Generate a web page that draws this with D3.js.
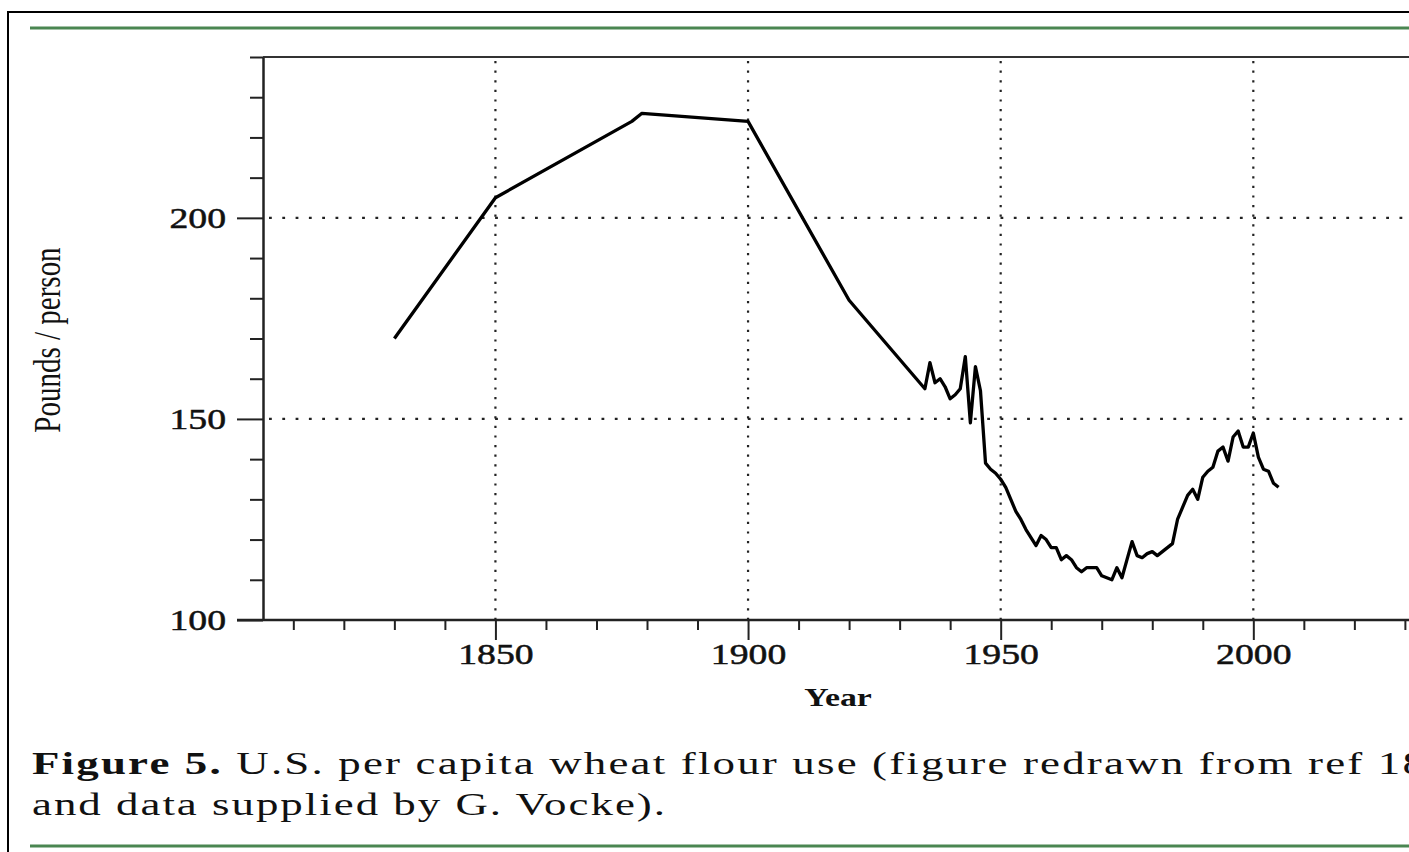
<!DOCTYPE html>
<html>
<head>
<meta charset="utf-8">
<script src="https://cdn.jsdelivr.net/npm/d3@7"></script>
<style>
  body { margin: 0; background: #fff; overflow: hidden; }
  text { font-family: "Liberation Serif", "Times New Roman", serif; fill: #111; }
</style>
</head>
<body>
<svg id="chart"></svg>
<script>
// wheat flour use, pounds per person
const years = [1830, 1850, 1877, 1879, 1900, 1920,
  1935, 1936, 1937, 1938, 1939, 1940, 1941, 1942, 1943, 1944, 1945, 1946, 1947, 1948, 1949,
  1950, 1951, 1952, 1953, 1954, 1955, 1956, 1957, 1958, 1959, 1960, 1961, 1962, 1963, 1964,
  1965, 1966, 1967, 1968, 1969, 1970, 1971, 1972, 1973, 1974, 1975, 1976, 1977, 1978, 1979,
  1980, 1981, 1982, 1983, 1984, 1985, 1986, 1987, 1988, 1989, 1990, 1991, 1992, 1993, 1994,
  1995, 1996, 1997, 1998, 1999, 2000, 2001, 2002, 2003, 2004, 2005];
const pounds = [170, 205, 224, 226, 224, 179.5,
  157.5, 164, 159, 160, 158, 155, 156, 157.5, 165.5, 149, 163, 157, 139, 137.5, 136.5,
  135, 133, 130, 127, 125, 122.5, 120.5, 118.5, 121, 120, 118, 118, 115, 116, 115,
  113, 112, 113, 113, 113, 111, 110.5, 110, 113, 110.5, 115, 119.5, 116, 115.5, 116.5,
  117, 116, 117, 118, 119, 125, 128, 131, 132.5, 130, 135.5, 137, 138, 142, 143,
  139.5, 145.5, 147, 143, 143, 146.5, 140.5, 137.5, 137, 134, 133];

const xTicks = d3.range(1810, 2031, 10);
const xMajor = [1850, 1900, 1950, 2000];
const yTicks = d3.range(100, 241, 10);
const yMajor = [100, 150, 200];

const captionBold = "Figure 5.";
const captionLine1 = " U.S. per capita wheat flour use (figure redrawn from ref 18";
const captionLine2 = "and data supplied by G. Vocke).";

const W = 1409, H = 852;
const SX = 1.3; // the page is stretched sideways

const svg = d3.select("#chart").attr("width", W).attr("height", H);

// frame and green rules
svg.append("rect").attr("x", 8).attr("y", 12).attr("width", 1500).attr("height", 900)
  .attr("fill", "#fff").attr("stroke", "#000").attr("stroke-width", 2);
svg.append("line").attr("x1", 30).attr("x2", W + 10).attr("y1", 28).attr("y2", 28)
  .attr("stroke", "#4a8651").attr("stroke-width", 3);
svg.append("line").attr("x1", 30).attr("x2", W + 10).attr("y1", 846).attr("y2", 846)
  .attr("stroke", "#4a8651").attr("stroke-width", 3);

const x = d3.scaleLinear().domain([1804, 2032]).range([263, 1415]);
const y = d3.scaleLinear().domain([100, 240]).range([620, 57]);

// dotted grid
svg.append("g").selectAll("line").data(xMajor).enter().append("line")
  .attr("x1", d => x(d)).attr("x2", d => x(d))
  .attr("y1", y(240) + 4).attr("y2", y(100))
  .attr("stroke", "#222").attr("stroke-width", 2.2).attr("stroke-dasharray", "2.2,7.4");
svg.append("g").selectAll("line").data([150, 200]).enter().append("line")
  .attr("x1", x(1804) + 6).attr("x2", x(2032))
  .attr("y1", d => y(d)).attr("y2", d => y(d))
  .attr("stroke", "#222").attr("stroke-width", 2.2).attr("stroke-dasharray", "2.8,10.5");

// top border line of the plot
svg.append("line").attr("x1", x(1804)).attr("x2", x(2032)).attr("y1", y(240)).attr("y2", y(240))
  .attr("stroke", "#333").attr("stroke-width", 2);

// x axis
const xAxis = svg.append("g").attr("transform", `translate(0,${y(100)})`)
  .call(d3.axisBottom(x).tickValues(xTicks).tickSizeOuter(0)
    .tickFormat(d => xMajor.includes(d) ? d : ""));
xAxis.select(".domain").attr("stroke", "#222").attr("stroke-width", 2.5)
  .attr("d", `M${x(1804) - 26},0H${x(2032)}`);
xAxis.selectAll(".tick line").attr("stroke", "#222").attr("stroke-width", 2)
  .attr("y2", d => xMajor.includes(d) ? 20 : 10);
xAxis.selectAll(".tick text").attr("y", 23).attr("dy", "0.71em")
  .attr("transform", `scale(${SX},1)`)
  .style("font-size", "29px").style("font-family", "Liberation Serif")
  .attr("fill", "#111").attr("stroke", "#111").attr("stroke-width", 0.5);

// y axis
const yAxis = svg.append("g").attr("transform", `translate(${x(1804)},0)`)
  .call(d3.axisLeft(y).tickValues(yTicks).tickSizeOuter(0)
    .tickFormat(d => yMajor.includes(d) ? d : ""));
yAxis.select(".domain").attr("stroke", "#222").attr("stroke-width", 2.5);
yAxis.selectAll(".tick line").attr("stroke", "#222").attr("stroke-width", 2)
  .attr("x2", d => yMajor.includes(d) ? -26 : -13);
yAxis.selectAll(".tick text").attr("x", -37 / SX).attr("dy", "0.33em")
  .attr("transform", `scale(${SX},1)`)
  .style("font-size", "29px").style("font-family", "Liberation Serif")
  .attr("fill", "#111").attr("stroke", "#111").attr("stroke-width", 0.5);

// axis titles
svg.append("text").attr("transform", `translate(838,706) scale(${SX},1)`)
  .attr("text-anchor", "middle").style("font-size", "26px").style("font-weight", "bold")
  .text("Year");
svg.append("text").attr("transform", `translate(60,340) scale(${SX},1) rotate(-90)`)
  .attr("text-anchor", "middle").style("font-size", "29px")
  .text("Pounds / person");

// the series
const line = d3.line().x(d => x(d[0])).y(d => y(d[1]));
svg.append("path").datum(d3.zip(years, pounds))
  .attr("d", line).attr("fill", "none").attr("stroke", "#000")
  .attr("stroke-width", 3.3).attr("stroke-linejoin", "round");

// caption
const CX = 1.45;
const cap = svg.append("g").attr("transform", `translate(32,774) scale(${CX},1)`);
const t1 = cap.append("text").style("font-size", "31px")
  .attr("textLength", (1425 - 32) / CX).attr("lengthAdjust", "spacing");
t1.append("tspan").style("font-weight", "bold").text(captionBold);
t1.append("tspan").text(captionLine1);
cap.append("text").attr("y", 41).style("font-size", "31px")
  .attr("textLength", 633 / CX).attr("lengthAdjust", "spacing")
  .text(captionLine2);
</script>
</body>
</html>
